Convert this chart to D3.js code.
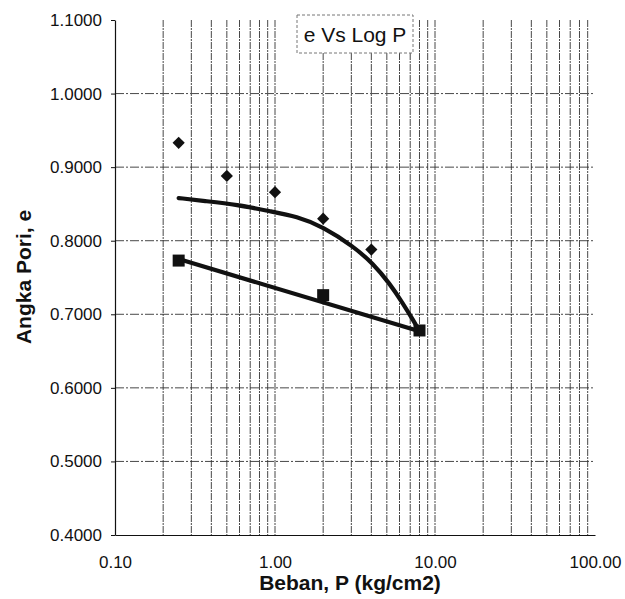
<!DOCTYPE html>
<html>
<head>
<meta charset="utf-8">
<script src="https://cdn.jsdelivr.net/npm/d3@7"></script>
<style>
  html, body { margin: 0; padding: 0; background: #fff; }
  svg { display: block; }
  text { font-family: "Liberation Sans", Arial, sans-serif; fill: #111; }
</style>
</head>
<body>
<svg id="chart" width="625" height="599"></svg>
<script>
// ---- data ----
const diamondP = [0.25, 0.5, 1, 2, 4];
const diamondE = [0.933, 0.888, 0.866, 0.830, 0.788];
const squareP = [0.25, 2, 8];
const squareE = [0.773, 0.726, 0.678];
const curveP = [0.25, 0.36, 0.58, 0.93, 1.37, 2, 3.1, 4.1, 5.2, 6.3, 7.3, 8];
const curveE = [0.858, 0.854, 0.849, 0.840, 0.833, 0.819, 0.792, 0.769, 0.742, 0.715, 0.692, 0.677];
const lineP = [0.25, 8];
const lineE = [0.775, 0.677];
const xTicks = [0.1, 1, 10, 100];
const yTicks = [0.4, 0.5, 0.6, 0.7, 0.8, 0.9, 1.0, 1.1];
const title = "e Vs Log P";
const xTitle = "Beban, P (kg/cm2)";
const yTitle = "Angka Pori, e";

// ---- chart ----
const svg = d3.select("#chart");
const x = d3.scaleLog().domain([0.1, 100]).range([115, 595]);
const y = d3.scaleLinear().domain([0.4, 1.1]).range([535, 20]);

// minor/major vertical gridlines
const vGrid = [];
[0.1, 1, 10].forEach(dec => { for (let m = 1; m <= 9; m++) { const v = +(dec * m).toPrecision(3); if (v > 0.1) vGrid.push(v); } });
svg.append("g").selectAll("line").data(vGrid).join("line")
  .attr("x1", d => x(d)).attr("x2", d => x(d))
  .attr("y1", y(1.1)).attr("y2", y(0.4))
  .attr("stroke", "#333").attr("stroke-width", 0.9)
  .attr("stroke-dasharray", "7,1,2,1");

// horizontal gridlines
svg.append("g").selectAll("line").data(yTicks.filter(v => v > 0.4 && v < 1.1)).join("line")
  .attr("x1", x(0.1)).attr("x2", x(100))
  .attr("y1", d => y(d)).attr("y2", d => y(d))
  .attr("stroke", "#333").attr("stroke-width", 0.9)
  .attr("stroke-dasharray", "9,2,2,2");

// axes
const yAxis = svg.append("g").attr("transform", `translate(${x(0.1)},0)`)
  .call(d3.axisLeft(y).tickValues(yTicks).tickFormat(d3.format(".4f")).tickSize(4).tickSizeOuter(0).tickPadding(9));
yAxis.selectAll("text").attr("font-size", 17).style("font-family", '"Liberation Sans", Arial, sans-serif').attr("fill", "#111");
yAxis.select(".domain").attr("stroke", "#111").attr("stroke-width", 1.2);
yAxis.selectAll(".tick line").attr("stroke", "#111");

const xAxis = svg.append("g").attr("transform", `translate(0,${y(0.4)})`)
  .call(d3.axisBottom(x).tickValues(xTicks).tickFormat(d3.format(".2f")).tickSize(0).tickSizeOuter(0).tickPadding(21));
xAxis.selectAll("text").attr("font-size", 17).style("font-family", '"Liberation Sans", Arial, sans-serif').attr("fill", "#111");
xAxis.select(".domain").attr("stroke", "#111").attr("stroke-width", 1.2);

// trend curve
const curveData = curveP.map((p, i) => [p, curveE[i]]);
svg.append("path").datum(curveData)
  .attr("d", d3.line().x(d => x(d[0])).y(d => y(d[1])).curve(d3.curveBasis))
  .attr("fill", "none").attr("stroke", "#111").attr("stroke-width", 4.2).attr("stroke-linecap", "round");

// straight line
const lineData = lineP.map((p, i) => [p, lineE[i]]);
svg.append("path").datum(lineData)
  .attr("d", d3.line().x(d => x(d[0])).y(d => y(d[1])))
  .attr("fill", "none").attr("stroke", "#111").attr("stroke-width", 4.2).attr("stroke-linecap", "round");

// diamonds
svg.append("g").selectAll("path").data(diamondP.map((p, i) => [p, diamondE[i]])).join("path")
  .attr("transform", d => `translate(${x(d[0])},${y(d[1])})`)
  .attr("d", d3.symbol().type(d3.symbolDiamond2).size(95))
  .attr("fill", "#111");

// squares
svg.append("g").selectAll("rect").data(squareP.map((p, i) => [p, squareE[i]])).join("rect")
  .attr("x", d => x(d[0]) - 6).attr("y", d => y(d[1]) - 6)
  .attr("width", 12).attr("height", 12)
  .attr("fill", "#111");

// title box
const tb = svg.append("g");
tb.append("rect").attr("x", 297).attr("y", 15).attr("width", 116).attr("height", 38)
  .attr("fill", "#fff").attr("stroke", "#777").attr("stroke-width", 1).attr("stroke-dasharray", "3,2");
tb.append("text").attr("x", 355).attr("y", 42).attr("text-anchor", "middle")
  .attr("font-size", 21).text(title);

// axis titles
svg.append("text").attr("x", 350).attr("y", 590).attr("text-anchor", "middle")
  .attr("font-size", 21).attr("font-weight", "bold").text(xTitle);
svg.append("text").attr("transform", "translate(31,277) rotate(-90)").attr("text-anchor", "middle")
  .attr("font-size", 21).attr("font-weight", "bold").text(yTitle);
</script>
</body>
</html>
